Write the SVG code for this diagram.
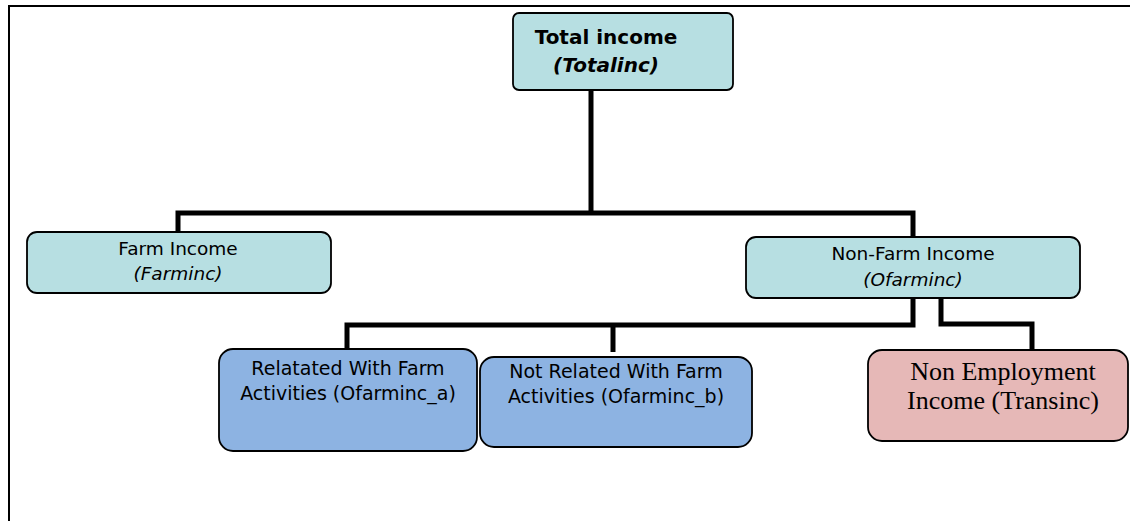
<svg xmlns="http://www.w3.org/2000/svg" width="1130" height="521" viewBox="0 0 1130 521">
<style>
.box{stroke:#000;stroke-width:1.8}
.teal{fill:#b7dfe2}
.blue{fill:#8db3e2}
.pink{fill:#e6b8b7}
.sans{font-family:"DejaVu Sans","Liberation Sans",sans-serif;fill:#000;text-anchor:middle}
.serif{font-family:"Liberation Serif","Times New Roman",serif;fill:#000;text-anchor:middle}
.conn{fill:none;stroke:#000;stroke-width:5;stroke-linejoin:miter}
</style>
<rect width="1130" height="521" fill="#fff"/>
<g id="frame" fill="none" stroke="#000" stroke-width="2">
<path d="M9,521 V6 H1130"/>
</g>
<g id="connectors" class="conn">
<path d="M591,90 V213"/>
<path d="M178,232 V213 H913 V237"/>
<path d="M913,298 V325 H347 V349"/>
<path d="M613,325 V352"/>
<path d="M941,298 V324 H1032 V350"/>
</g>
<g id="total">
<rect class="box teal" x="513" y="13" width="220" height="77" rx="6"/>
<text class="sans" x="606" y="44" font-size="20" font-weight="bold">Total income</text>
<text class="sans" x="606" y="72" font-size="20" font-weight="bold" font-style="italic">(Totalinc)</text>
</g>
<g id="farm">
<rect class="box teal" x="27" y="232" width="304" height="61" rx="10"/>
<text class="sans" x="178" y="255" font-size="18.5">Farm Income</text>
<text class="sans" x="178" y="280" font-size="18.5" font-style="italic">(Farminc)</text>
</g>
<g id="nonfarm">
<rect class="box teal" x="746" y="237" width="334" height="61" rx="10"/>
<text class="sans" x="913" y="260" font-size="18.5">Non-Farm Income</text>
<text class="sans" x="913" y="286" font-size="18.5" font-style="italic">(Ofarminc)</text>
</g>
<g id="related">
<rect class="box blue" x="219" y="349" width="258" height="102" rx="14"/>
<text class="sans" x="348" y="375" font-size="19">Relatated With Farm</text>
<text class="sans" x="348" y="400" font-size="19">Activities (Ofarminc_a)</text>
</g>
<g id="notrelated">
<rect class="box blue" x="480" y="357" width="272" height="90" rx="14"/>
<text class="sans" x="616" y="378" font-size="19">Not Related With Farm</text>
<text class="sans" x="616" y="403" font-size="19">Activities (Ofarminc_b)</text>
</g>
<g id="nonemployment">
<rect class="box pink" x="868" y="350" width="260" height="91" rx="14"/>
<text class="serif" x="1003" y="380" font-size="26">Non Employment</text>
<text class="serif" x="1003" y="409" font-size="26">Income (Transinc)</text>
</g>
</svg>
